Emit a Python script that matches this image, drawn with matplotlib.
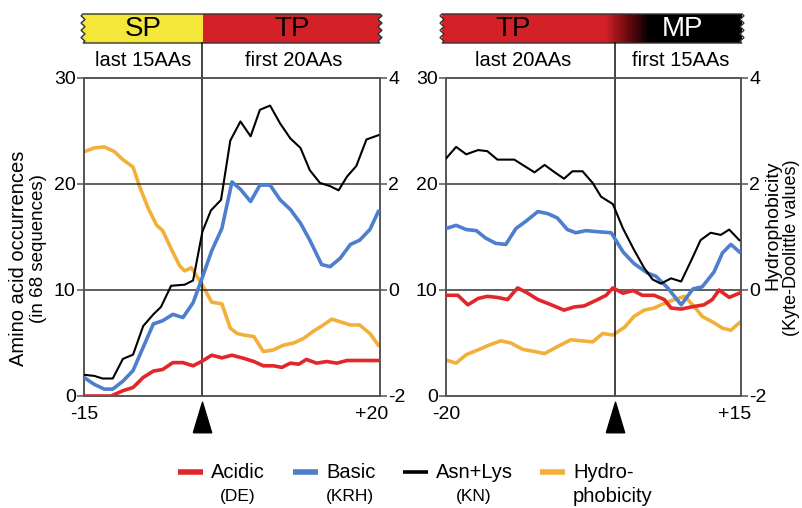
import numpy as np
import matplotlib
matplotlib.use("Agg")
import matplotlib.pyplot as plt
from matplotlib.patches import Polygon
from matplotlib.colors import LinearSegmentedColormap
from matplotlib.transforms import blended_transform_factory

plt.rcParams['font.family'] = ['Liberation Sans', 'DejaVu Sans']
plt.rcParams['axes.unicode_minus'] = False

# ---------------- data (position index 0..35 along each panel) ----------------
# Left panel: SP last 15 AAs | TP first 20 AAs
L_acid_x = [0, 3.2, 4.6, 5.8, 7.0, 8.2, 9.3, 10.5, 11.7, 12.9, 14.0, 15.1, 16.3, 17.5, 18.9, 20.1,
            21.2, 22.4, 23.4, 24.4, 25.4, 26.3, 27.5, 28.7, 29.9, 31.1, 34.8]
L_acid_y = [0, 0, 0.5, 0.8, 1.75, 2.35, 2.5, 3.15, 3.15, 2.85, 3.3, 3.85, 3.6, 3.85, 3.55, 3.25,
            2.85, 2.85, 2.7, 3.1, 3.0, 3.45, 3.1, 3.25, 3.1, 3.35, 3.35]
L_basic_x = [0, 1.2, 2.4, 3.4, 4.6, 5.8, 7.0, 8.2, 9.3, 10.5, 11.7, 12.9, 14.0, 15.1, 16.3, 17.5,
             18.5, 19.7, 20.8, 22.0, 23.2, 24.4, 25.6, 26.7, 28.1, 29.1, 30.3, 31.5, 32.6, 33.8, 34.8]
L_basic_y = [1.75, 1.1, 0.65, 0.65, 1.4, 2.4, 4.6, 6.8, 7.1, 7.7, 7.4, 8.8, 11.2, 13.7, 15.8, 20.2,
             19.5, 18.35, 19.9, 19.9, 18.5, 17.6, 16.3, 14.7, 12.4, 12.2, 13.0, 14.3, 14.7, 15.7, 17.4]
L_asn_x = [0, 1.2, 2.2, 3.4, 4.6, 5.8, 7.0, 8.2, 9.1, 10.3, 11.9, 12.9, 14.0, 15.0, 16.2, 17.3,
           18.5, 19.7, 20.8, 22.0, 23.2, 24.4, 25.6, 26.7, 27.9, 29.1, 30.1, 31.1, 32.2, 33.4, 34.8]
L_asn_y = [2.0, 1.9, 1.65, 1.65, 3.5, 3.9, 6.6, 7.7, 8.4, 10.4, 10.5, 10.9, 15.5, 17.5, 18.5, 24.1,
           25.9, 24.5, 27.0, 27.4, 25.7, 24.3, 23.4, 21.3, 20.1, 19.8, 19.4, 20.7, 21.7, 24.2, 24.6]
L_hydro_x = [0, 1.2, 2.4, 3.6, 4.6, 5.8, 6.6, 7.6, 8.6, 9.3, 10.3, 11.3, 11.9, 12.7, 13.9, 15.1,
             16.3, 17.3, 18.1, 18.9, 20.1, 21.2, 22.4, 23.6, 24.8, 26.0, 27.1, 28.3, 29.3, 30.3,
             31.5, 32.6, 33.8, 34.8]
L_hydro_y = [2.61, 2.68, 2.70, 2.61, 2.46, 2.32, 1.94, 1.54, 1.22, 1.12, 0.78, 0.46, 0.36, 0.42,
             0.12, -0.23, -0.26, -0.72, -0.82, -0.85, -0.88, -1.16, -1.13, -1.04, -1.0, -0.91,
             -0.78, -0.66, -0.55, -0.6, -0.66, -0.66, -0.82, -1.04]

# Right panel: TP last 20 AAs | MP first 15 AAs
R_acid_x = [0, 1.4, 2.6, 3.8, 4.9, 6.1, 7.3, 8.5, 9.7, 10.9, 12.5, 14.0, 15.2, 16.4, 18.0, 19.0,
            19.8, 21.0, 22.2, 23.3, 24.7, 25.9, 26.7, 27.9, 29.1, 30.6, 31.6, 32.4, 33.6, 34.8]
R_acid_y = [9.5, 9.5, 8.6, 9.2, 9.4, 9.3, 9.1, 10.2, 9.7, 9.1, 8.6, 8.1, 8.4, 8.5, 9.1, 9.5,
            10.2, 9.7, 9.95, 9.5, 9.5, 9.1, 8.3, 8.2, 8.4, 8.6, 9.1, 10.0, 9.3, 9.7]
R_basic_x = [0, 1.2, 2.4, 3.6, 4.7, 5.9, 7.1, 8.3, 9.5, 10.9, 12.1, 13.2, 14.4, 15.4, 16.6, 18.0,
             19.6, 21.0, 22.3, 23.9, 24.9, 26.3, 27.9, 29.3, 30.4, 31.8, 32.8, 33.8, 34.8]
R_basic_y = [15.8, 16.1, 15.7, 15.6, 14.9, 14.4, 14.3, 15.8, 16.5, 17.4, 17.2, 16.8, 15.7, 15.4,
             15.6, 15.5, 15.4, 13.6, 12.5, 11.6, 11.3, 10.2, 8.6, 10.1, 10.3, 11.7, 13.5, 14.3, 13.6]
R_asn_x = [0, 1.2, 2.4, 3.8, 4.9, 6.1, 8.1, 9.3, 10.5, 11.7, 12.9, 14.0, 15.0, 16.2, 17.4, 18.4,
           19.8, 21.0, 22.3, 23.5, 24.5, 25.5, 26.7, 27.9, 29.1, 30.2, 31.4, 32.6, 33.6, 34.8]
R_asn_y = [22.4, 23.5, 22.8, 23.2, 23.1, 22.3, 22.3, 21.7, 21.1, 21.8, 21.1, 20.5, 21.2, 21.2,
           20.1, 18.8, 18.1, 15.8, 13.8, 12.1, 11.0, 10.6, 11.1, 10.8, 12.8, 14.7, 15.4, 15.2, 15.7, 14.7]
R_hydro_x = [0, 1.2, 2.4, 3.8, 5.1, 6.5, 7.7, 9.1, 10.5, 11.7, 13.2, 14.8, 16.2, 17.4, 18.6, 19.8,
             21.2, 22.3, 23.5, 24.7, 25.9, 27.1, 28.3, 29.5, 30.4, 31.6, 32.8, 33.8, 34.8]
R_hydro_y = [-1.32, -1.38, -1.22, -1.13, -1.04, -0.96, -1.0, -1.12, -1.16, -1.2, -1.07, -0.94,
             -0.96, -0.98, -0.82, -0.85, -0.7, -0.5, -0.38, -0.34, -0.25, -0.18, -0.12, -0.32,
             -0.5, -0.6, -0.72, -0.76, -0.62]

left_yticks = [0, 10, 20, 30]
right_yticks = [-2, 0, 2, 4]
L_xtick_labels = ['-15', '+20']
R_xtick_labels = ['-20', '+15']
L_cut = 14
R_cut = 20

C_ACID = '#e3262a'
C_BASIC = '#4d7fcc'
C_ASN = '#000000'
C_HYDRO = '#f2b03a'
C_SPINE = '#555555'

W, H = 802, 508
fig = plt.figure(figsize=(W / 100, H / 100), dpi=100)

def fx(px):
    return px / W

def fy(py):
    return 1 - py / H

ax_top_px, ax_bot_px = 78, 396
banner_top, banner_bot = 14, 43

def make_panel(left_px, right_px, acid, basic, asn, hydro, cut, xlabels, xtick_pos):
    ax = fig.add_axes([fx(left_px), fy(ax_bot_px), (right_px - left_px) / W,
                       (ax_bot_px - ax_top_px) / H])
    ax.set_xlim(0, 35)
    ax.set_ylim(0, 30)
    tw = ax.twinx()
    tw.set_ylim(-2, 4)
    for a in (ax, tw):
        for s in a.spines.values():
            s.set_color(C_SPINE)
            s.set_linewidth(1.2)
    ax.axhline(10, color='#333333', lw=1.1, zorder=1)
    ax.axhline(20, color='#333333', lw=1.1, zorder=1)
    ymax = (ax_bot_px - banner_bot) / (ax_bot_px - ax_top_px)
    ax.axvline(cut, ymin=0, ymax=ymax, color='#111111', lw=1.1, clip_on=False, zorder=1)

    tw.plot(hydro[0], hydro[1], color=C_HYDRO, lw=2.6, solid_joinstyle='round')
    ax.plot(acid[0], acid[1], color=C_ACID, lw=2.6, solid_joinstyle='round', zorder=3)
    ax.plot(basic[0], basic[1], color=C_BASIC, lw=2.6, solid_joinstyle='round', zorder=3)
    ax.plot(asn[0], asn[1], color=C_ASN, lw=1.5, solid_joinstyle='round', zorder=4)
    ax.set_zorder(tw.get_zorder() + 1)
    ax.patch.set_visible(False)

    ax.set_yticks(left_yticks)
    ax.set_yticklabels([str(v) for v in left_yticks])
    tw.set_yticks(right_yticks)
    tw.set_yticklabels([str(v) for v in right_yticks])
    ax.tick_params(axis='y', length=5, width=1.1, color=C_SPINE, pad=1, labelsize=14)
    tw.tick_params(axis='y', length=5, width=1.1, color=C_SPINE, pad=1, labelsize=14)
    ax.set_xticks(xtick_pos)
    ax.set_xticklabels(xlabels)
    ax.tick_params(axis='x', length=0, pad=7, labelsize=14)

    # arrow-head marker under the cleavage site
    tr = blended_transform_factory(ax.transData, ax.transAxes)
    tri = [(-0.3, -0.5), (0.3, -0.5), (0.0, 0.5), (-0.3, -0.5)]
    ax.plot([cut], [-(417 - ax_bot_px) / (ax_bot_px - ax_top_px)], marker=tri,
            markersize=22, color='black', transform=tr, clip_on=False, zorder=5)
    return ax, tw

make_panel(84, 380, (L_acid_x, L_acid_y), (L_basic_x, L_basic_y), (L_asn_x, L_asn_y),
           (L_hydro_x, L_hydro_y), L_cut, L_xtick_labels, [0, 34])
make_panel(446, 741, (R_acid_x, R_acid_y), (R_basic_x, R_basic_y), (R_asn_x, R_asn_y),
           (R_hydro_x, R_hydro_y), R_cut, R_xtick_labels, [0, 34.3])

# ---------------- decoration layer in pixel coordinates ----------------
deco = fig.add_axes([0, 0, 1, 1])
deco.set_xlim(0, W)
deco.set_ylim(H, 0)
deco.axis('off')

def wavy_edge(x, y0, y1, amp, n=4):
    ys = np.linspace(y0, y1, n * 4 + 1)
    xs = x + amp * np.sin(np.linspace(0, n * 2 * np.pi, n * 4 + 1))
    return list(zip(xs, ys))

def banner_polygon(x0, x1, wavy_l=True, wavy_r=True, amp=2.0):
    pts = []
    if wavy_l:
        pts += wavy_edge(x0, banner_bot, banner_top, amp)
    else:
        pts += [(x0, banner_bot), (x0, banner_top)]
    if wavy_r:
        pts += wavy_edge(x1, banner_top, banner_bot, amp)
    else:
        pts += [(x1, banner_top), (x1, banner_bot)]
    return pts

# left banner
deco.add_patch(Polygon(banner_polygon(83, 203, True, False), closed=True,
                       facecolor='#f4e73a', edgecolor='none'))
deco.add_patch(Polygon(banner_polygon(203, 380, False, True), closed=True,
                       facecolor='#d42128', edgecolor='none'))
deco.add_patch(Polygon(banner_polygon(83, 380), closed=True, facecolor='none',
                       edgecolor='#333333', lw=1.0))
deco.text(143, 29, 'SP', fontsize=20, ha='center', va='center', color='black')
deco.text(292, 29, 'TP', fontsize=20, ha='center', va='center', color='black')

# right banner with red-to-black gradient
poly_r = Polygon(banner_polygon(442, 742), closed=True, facecolor='none',
                 edgecolor='#333333', lw=1.0)
grad_cmap = LinearSegmentedColormap.from_list(
    'tpmp', [(0, '#d42128'), ((605 - 442) / 300, '#d42128'), ((628 - 442) / 300, '#6a0a0e'),
             ((650 - 442) / 300, '#000000'), (1, '#000000')])
im = deco.imshow(np.linspace(0, 1, 300)[None, :], cmap=grad_cmap, aspect='auto',
                 extent=[442, 742, banner_bot, banner_top], zorder=1)
deco.add_patch(poly_r)
clip = Polygon(banner_polygon(442, 742), closed=True, transform=deco.transData)
im.set_clip_path(clip)
deco.set_xlim(0, W)
deco.set_ylim(H, 0)
deco.text(513, 29, 'TP', fontsize=20, ha='center', va='center', color='black', zorder=3)
deco.text(683, 29, 'MP', fontsize=20, ha='center', va='center', color='white', zorder=3)

# sub-headers
deco.text(143.5, 61, 'last 15AAs', fontsize=14.5, ha='center', va='center')
deco.text(294, 61, 'first 20AAs', fontsize=14.5, ha='center', va='center')
deco.text(523, 61, 'last 20AAs', fontsize=14.5, ha='center', va='center')
deco.text(681, 61, 'first 15AAs', fontsize=14.5, ha='center', va='center')

# axis titles
deco.text(19, 258, 'Amino acid occurrences', fontsize=14.5, rotation=90, ha='center', va='center')
deco.text(39, 249, '(in 68 sequences)', fontsize=13.5, rotation=90, ha='center', va='center')
deco.text(773, 225, 'Hydrophobicity', fontsize=14, rotation=90, ha='center', va='center')
deco.text(792, 248, '(Kyte-Doolittle values)', fontsize=13, rotation=90, ha='center', va='center')

# legend
leg_items = [
    (178, 'Acidic', C_ACID, 4.0),
    (293, 'Basic', C_BASIC, 4.0),
    (403, 'Asn+Lys', C_ASN, 2.6),
    (540, 'Hydro-', C_HYDRO, 4.0),
]
for x0, t1, c, lw in leg_items:
    deco.plot([x0, x0 + 25], [472, 472], color=c, lw=lw, solid_capstyle='butt')
    deco.text(x0 + 33, 472, t1, fontsize=14.5, ha='left', va='center')
deco.text(573, 497, 'phobicity', fontsize=14.5, ha='left', va='center')
deco.text(238, 497, '(DE)', fontsize=12.5, ha='center', va='center')
deco.text(350, 497, '(KRH)', fontsize=12.5, ha='center', va='center')
deco.text(474, 497, '(KN)', fontsize=12.5, ha='center', va='center')

fig.savefig('out.png', dpi=100)
